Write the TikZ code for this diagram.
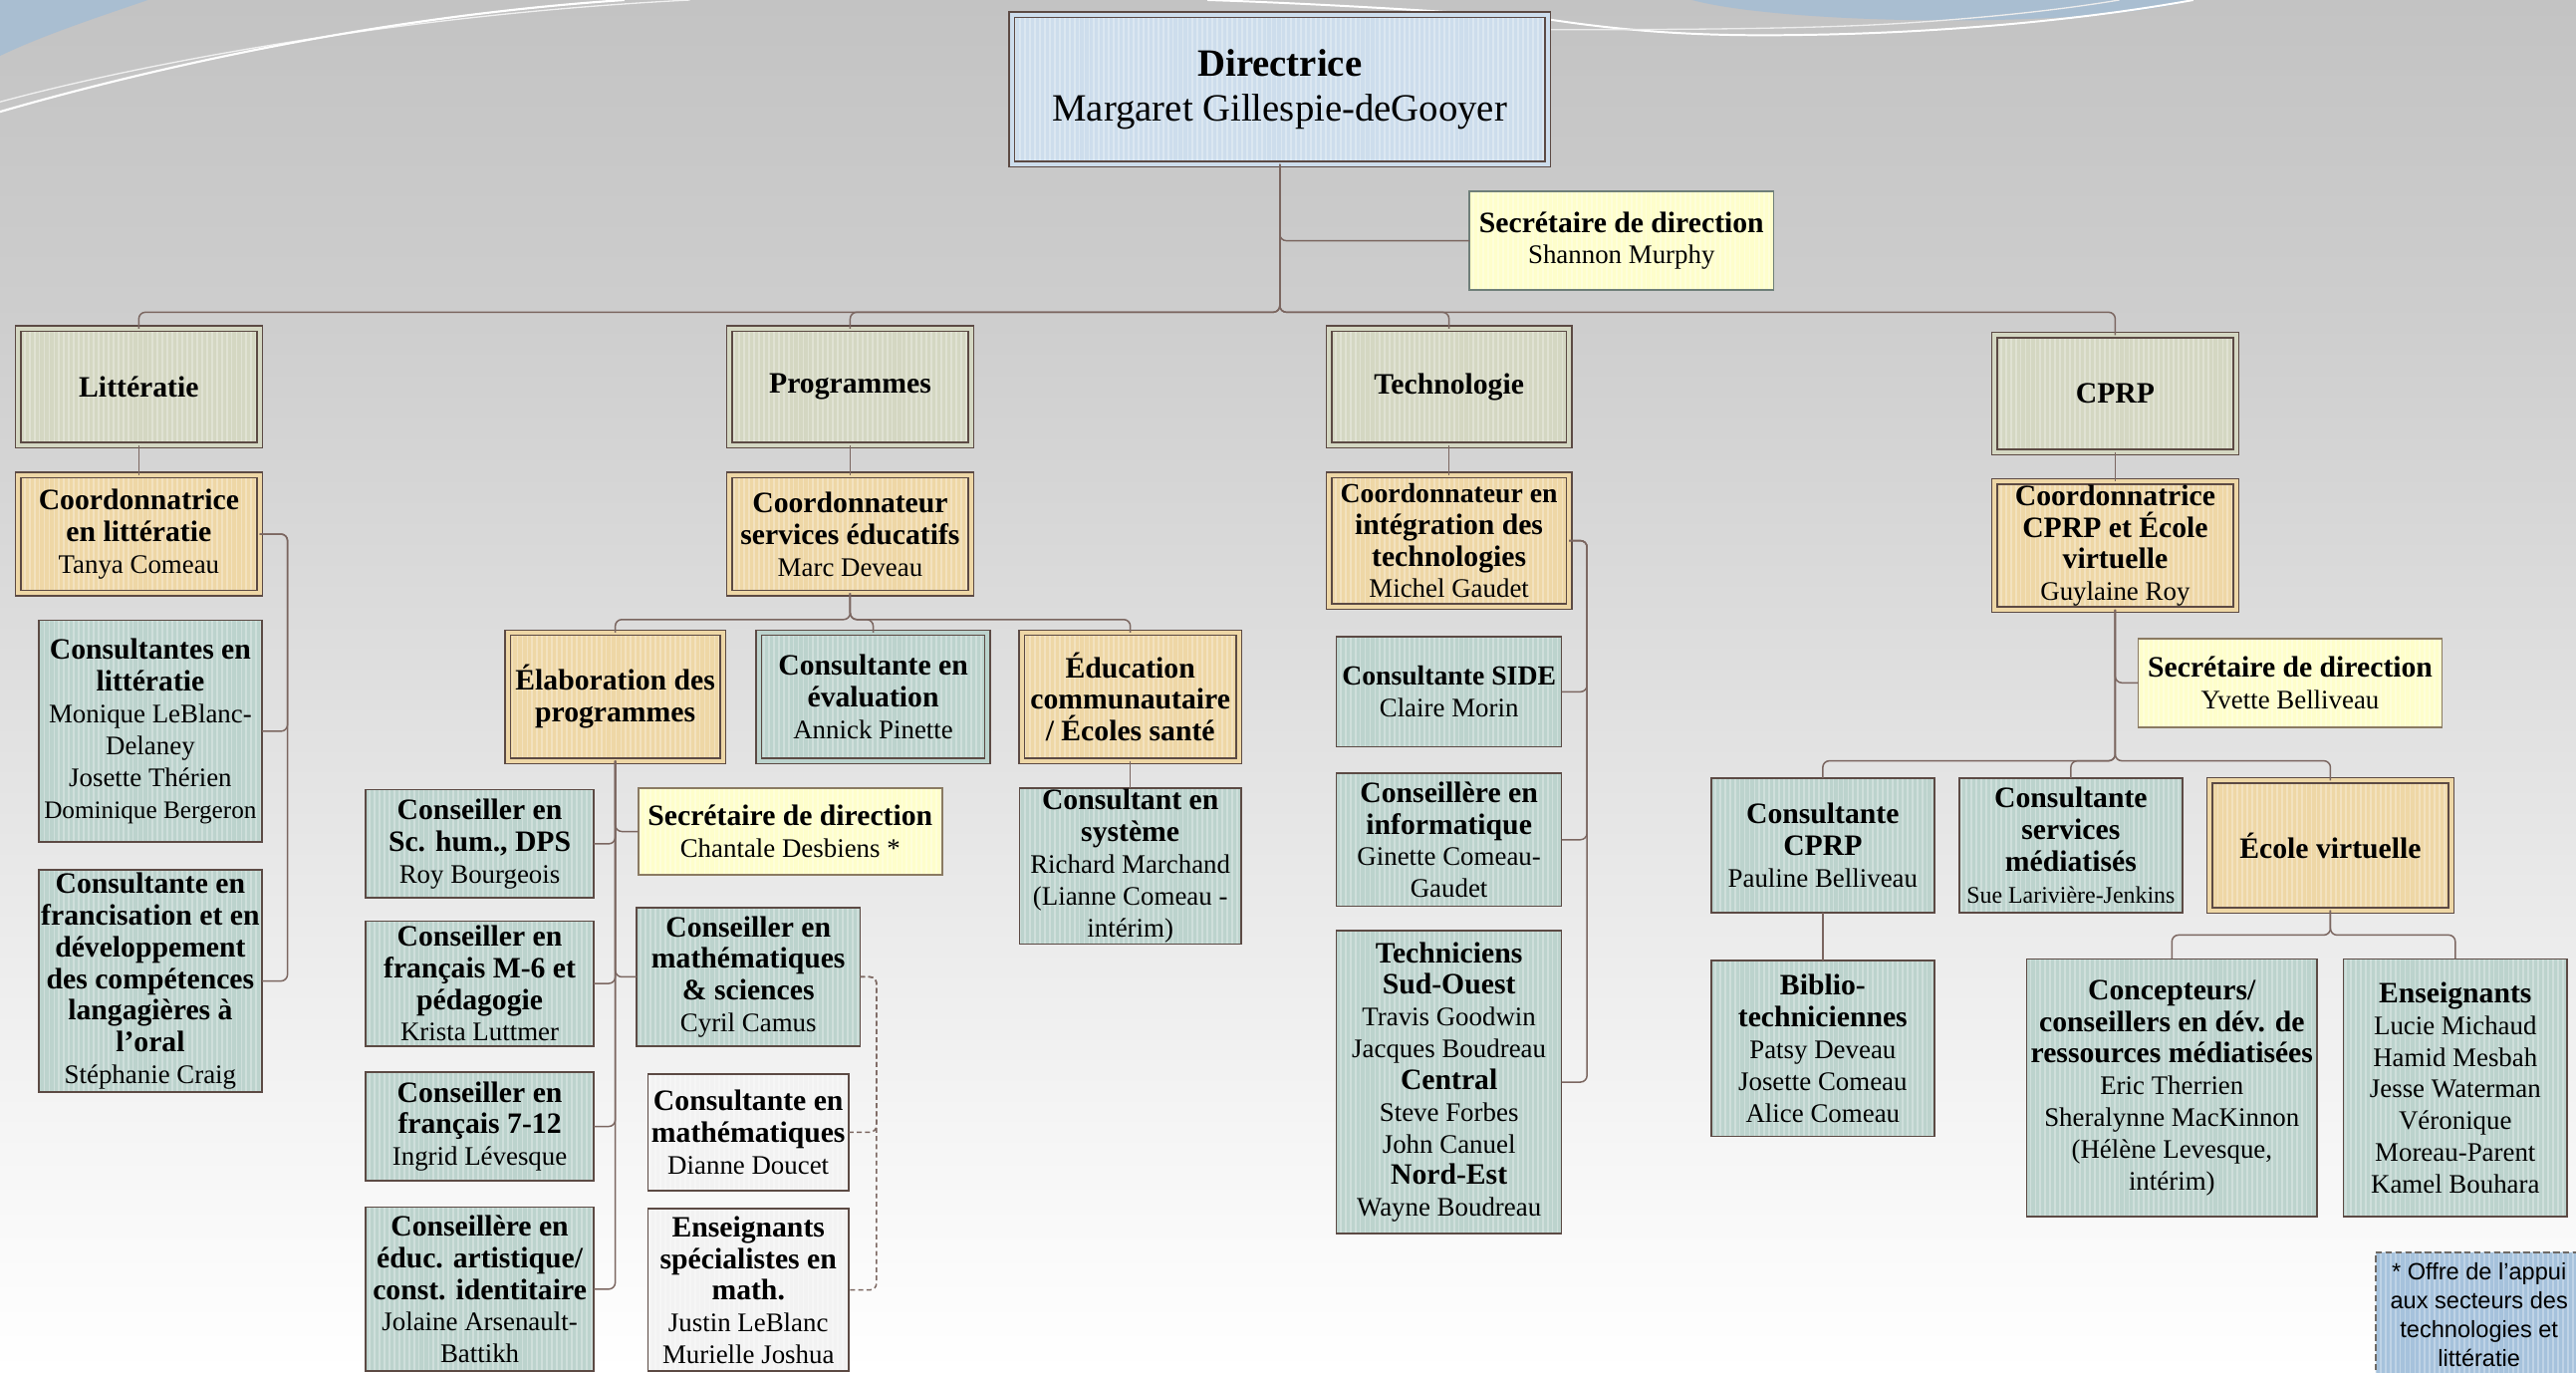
\documentclass[tikz,border=0pt]{standalone}
\usepackage{fontspec}
\setmainfont{Liberation Serif}
\newfontfamily\footfont{Liberation Sans}
\usetikzlibrary{patterns.meta}
\definecolor{bdc}{HTML}{5C4A44}
\definecolor{cnc}{HTML}{7B6660}
\definecolor{cblue}{HTML}{CDDDEC}
\definecolor{cgreen}{HTML}{D4D7C2}
\definecolor{ctan}{HTML}{EED7A6}
\definecolor{cteal}{HTML}{BCD3CD}
\definecolor{cyel}{HTML}{FEFECB}
\definecolor{clight}{HTML}{F2F2F2}
\definecolor{cfoot}{HTML}{A6C2DC}
\definecolor{cfootb}{HTML}{6E6964}
\definecolor{csecA}{HTML}{6F7F79}
\definecolor{csecB}{HTML}{8A7A62}
\definecolor{cswoosh}{HTML}{A9BED1}
\definecolor{bgA}{HTML}{FFFFFF}
\definecolor{bgB}{HTML}{F6F6F6}
\definecolor{bgC}{HTML}{E6E6E6}
\definecolor{bgD}{HTML}{DADADA}
\definecolor{bgE}{HTML}{CDCDCD}
\definecolor{bgF}{HTML}{C3C3C3}
\pgfdeclareverticalshading{bgshade}{100bp}{color(0bp)=(bgA); color(25bp)=(bgA); color(33bp)=(bgB); color(45bp)=(bgC); color(54bp)=(bgD); color(64bp)=(bgE); color(75bp)=(bgF); color(100bp)=(bgF)}
\newcommand\nmFont{\fontsize{16.3}{19.3}\selectfont}
\newcommand\ttlB[1]{{\fontsize{18}{19.3}\selectfont\bfseries #1}}
\newcommand\ttlS[1]{{\fontsize{16.8}{19.3}\selectfont\bfseries #1}}
\newcommand\nmS[1]{{\fontsize{15.3}{19.3}\selectfont #1}}
\tikzset{
  base/.style={align=center, inner sep=0pt, outer sep=0pt, text=black, font=\nmFont},
  stripefill/.style={preaction={fill=#1}, preaction={pattern={Lines[angle=90,distance=3pt,line width=1.1pt]}, pattern color=#1!72!white}},
  dbox/.style={base, stripefill=#1, draw=bdc, line width=0.9pt, double=#1, double distance=2.4pt},
  sbox/.style={base, stripefill=#1, draw=bdc, line width=1pt},
  conn/.style={draw=cnc, line width=0.9pt, rounded corners=4pt},
  dconn/.style={conn, dash pattern=on 3pt off 2pt},
}
\begin{document}
\begin{tikzpicture}[x=1pt,y=-1pt]
\useasboundingbox (0,0) rectangle (1568,835);
\clip (0,0) rectangle (1568,835);
% background
\shade[shading=bgshade] (0,0) rectangle (1568,835);
\fill[cswoosh] (0,0) -- (90,0) .. controls (55,12) and (25,22) .. (0,34) -- cycle;
\fill[cswoosh] (1030,0) .. controls (1085,15) and (1270,18) .. (1335,0) -- cycle;
\draw[white!88!gray, line width=0.8pt] (0,62) .. controls (100,35) and (260,8) .. (420,0);
\draw[white, line width=1.3pt] (0,68) .. controls (90,42) and (230,10) .. (380,0);
\draw[white, line width=1.2pt] (735,0) .. controls (800,2) and (900,8) .. (944,12);
\draw[white, line width=1.2pt] (944,12) .. controls (1010,22) and (1060,22) .. (1110,21) .. controls (1200,19) and (1280,10) .. (1335,0);
\draw[white!85!gray, line width=0.8pt] (944,18) .. controls (1000,18) and (1100,18) .. (1160,14) .. controls (1220,10) and (1260,5) .. (1290,0);

% top
\node[dbox=cblue, minimum width=326pt, minimum height=91pt, font=\fontsize{23.5}{27}\selectfont] (dir) at (779,54.5) {\textbf{Directrice}\\Margaret Gillespie-deGooyer};
\node[sbox=cyel, draw=csecA, minimum width=185pt, minimum height=60pt] (sec1) at (987,146.5) {\ttlB{Secrétaire de direction}\\Shannon Murphy};

% level 2
\node[dbox=cgreen, minimum width=147pt, minimum height=71pt] (litt) at (84.5,235.5) {\ttlB{Littératie}};
\node[dbox=cgreen, minimum width=147pt, minimum height=71pt] (prog) at (517.5,235.5) {\ttlB{Programmes}};
\node[dbox=cgreen, minimum width=146pt, minimum height=71pt] (tech) at (882,235.5) {\ttlB{Technologie}};
\node[dbox=cgreen, minimum width=147pt, minimum height=71pt] (cprp) at (1287.5,239.5) {\ttlB{CPRP}};

% coordinators
\node[dbox=ctan, minimum width=147pt, minimum height=72pt] (lcoord) at (84.5,325) {\ttlB{Coordonnatrice}\\\ttlB{en littératie}\\Tanya Comeau};
\node[dbox=ctan, minimum width=147pt, minimum height=72pt] (pcoord) at (517.5,325) {\ttlB{Coordonnateur}\\\ttlB{services éducatifs}\\Marc Deveau};
\node[dbox=ctan, minimum width=146pt, minimum height=80pt] (tcoord) at (882,329) {\ttlS{Coordonnateur en}\\\ttlB{intégration des}\\\ttlB{technologies}\\Michel Gaudet};
\node[dbox=ctan, minimum width=147pt, minimum height=78pt] (ccoord) at (1287.5,332) {\ttlB{Coordonnatrice}\\\ttlB{CPRP et École}\\\ttlB{virtuelle}\\Guylaine Roy};

% Litteratie children
\node[sbox=cteal, minimum width=136pt, minimum height=135pt] (lc1) at (91.5,445) {\ttlB{Consultantes en}\\\ttlB{littératie}\\Monique LeBlanc-\\Delaney\\Josette Thérien\\\nmS{Dominique Bergeron}};
\node[sbox=cteal, minimum width=136pt, minimum height=135pt] (lc2) at (91.5,597) {\ttlB{Consultante en}\\\ttlB{francisation et en}\\\ttlB{développement}\\\ttlB{des compétences}\\\ttlB{langagières à}\\\ttlB{l’oral}\\Stéphanie Craig};

% Programmes children
\node[dbox=ctan, minimum width=131pt, minimum height=78pt] (elab) at (374.5,424) {\ttlB{Élaboration des}\\\ttlB{programmes}};
\node[dbox=cteal, minimum width=139pt, minimum height=78pt] (eval) at (531.5,424) {\ttlB{Consultante en}\\\ttlB{évaluation}\\Annick Pinette};
\node[dbox=ctan, minimum width=132pt, minimum height=78pt] (educ) at (688,424) {\ttlB{Éducation}\\\ttlB{communautaire}\\\ttlB{/ Écoles santé}};
\node[sbox=cteal, minimum width=135pt, minimum height=95pt] (syst) at (688,527) {\ttlB{Consultant en}\\\ttlB{système}\\Richard Marchand\\(Lianne Comeau -\\intérim)};
\node[sbox=cteal, minimum width=139pt, minimum height=66pt] (schum) at (292,513.5) {\ttlB{Conseiller en}\\\ttlB{Sc. hum., DPS}\\Roy Bourgeois};
\node[sbox=cteal, minimum width=139pt, minimum height=76pt] (fm6) at (292,598.5) {\ttlB{Conseiller en}\\\ttlB{français M-6 et}\\\ttlB{pédagogie}\\Krista Luttmer};
\node[sbox=cteal, minimum width=139pt, minimum height=66pt] (f712) at (292,685.5) {\ttlB{Conseiller en}\\\ttlB{français 7-12}\\Ingrid Lévesque};
\node[sbox=cteal, minimum width=139pt, minimum height=100pt] (arts) at (292,784.5) {\ttlB{Conseillère en}\\\ttlB{éduc. artistique/}\\\ttlB{const. identitaire}\\Jolaine Arsenault-\\Battikh};
\node[sbox=cyel, draw=csecB, minimum width=185pt, minimum height=53pt] (sec2) at (481,506) {\ttlB{Secrétaire de direction}\\Chantale Desbiens *};
\node[sbox=cteal, minimum width=136pt, minimum height=84pt] (maths) at (455.5,594.5) {\ttlB{Conseiller en}\\\ttlB{mathématiques}\\\ttlB{\& sciences}\\Cyril Camus};
\node[sbox=clight, minimum width=122pt, minimum height=71pt] (dianne) at (455.5,689) {\ttlB{Consultante en}\\\ttlB{mathématiques}\\Dianne Doucet};
\node[sbox=clight, minimum width=122pt, minimum height=99pt] (enssp) at (455.5,785) {\ttlB{Enseignants}\\\ttlB{spécialistes en}\\\ttlB{math.}\\Justin LeBlanc\\Murielle Joshua};

% Technologie children
\node[sbox=cteal, minimum width=137pt, minimum height=67pt] (side) at (882,421) {\ttlS{Consultante SIDE}\\Claire Morin};
\node[sbox=cteal, minimum width=137pt, minimum height=81pt] (info) at (882,511) {\ttlB{Conseillère en}\\\ttlB{informatique}\\Ginette Comeau-\\Gaudet};
\node[sbox=cteal, minimum width=137pt, minimum height=184pt] (techn) at (882,658.5) {\ttlB{Techniciens}\\\ttlB{Sud-Ouest}\\Travis Goodwin\\Jacques Boudreau\\\ttlB{Central}\\Steve Forbes\\John Canuel\\\ttlB{Nord-Est}\\Wayne Boudreau};

% CPRP children
\node[sbox=cyel, draw=csecB, minimum width=185pt, minimum height=54pt] (sec3) at (1394,415.5) {\ttlB{Secrétaire de direction}\\Yvette Belliveau};
\node[sbox=cteal, minimum width=136pt, minimum height=82pt] (ccprp) at (1109.5,514.5) {\ttlB{Consultante}\\\ttlB{CPRP}\\Pauline Belliveau};
\node[sbox=cteal, minimum width=136pt, minimum height=82pt] (cserv) at (1260.5,514.5) {\ttlB{Consultante}\\\ttlB{services}\\\ttlB{médiatisés}\\{\fontsize{14.5}{19.3}\selectfont Sue Larivière-Jenkins}};
\node[dbox=ctan, minimum width=147pt, minimum height=79pt] (ecole) at (1418.5,514.5) {\ttlB{École virtuelle}};
\node[sbox=cteal, minimum width=136pt, minimum height=107pt] (biblio) at (1109.5,638) {\ttlB{Biblio-}\\\ttlB{techniciennes}\\Patsy Deveau\\Josette Comeau\\Alice Comeau};
\node[sbox=cteal, minimum width=177pt, minimum height=157pt] (conc) at (1322,662) {\ttlB{Concepteurs/}\\\ttlB{conseillers en dév. de}\\\ttlB{ressources médiatisées}\\Eric Therrien\\Sheralynne MacKinnon\\(Hélène Levesque,\\intérim)};
\node[sbox=cteal, minimum width=136pt, minimum height=157pt] (ens) at (1494.5,662) {\ttlB{Enseignants}\\Lucie Michaud\\Hamid Mesbah\\Jesse Waterman\\Véronique\\Moreau-Parent\\Kamel Bouhara};

% footnote
\node[base, stripefill=cfoot, draw=cfootb, line width=1.3pt, dash pattern=on 4pt off 2pt, minimum width=126pt, minimum height=76pt, font=\footfont\fontsize{14.3}{17.6}\selectfont] (foot) at (1509,800) {* Offre de l’appui\\aux secteurs des\\technologies et\\littératie};

% connectors
\coordinate (busA) at (779,190);
\foreach \n in {litt,prog,tech,cprp} \draw[conn] (\n.north) |- (busA) -- (dir.south);
\draw[conn] (dir.south) |- (sec1.west);

\draw[conn] (litt.south) -- (lcoord.north);
\coordinate (lx) at (175,0);
\foreach \n in {lc1,lc2} \draw[conn] (lcoord.east) -| (lx |- \n.east) -- (\n.east);

\draw[conn] (prog.south) -- (pcoord.north);
\coordinate (busP) at (517.5,377);
\foreach \n in {elab,eval,educ} \draw[conn] (\n.north) |- (busP) -- (pcoord.south);
\draw[conn] (educ.south) -- (syst.north);
\foreach \n in {schum,fm6,f712,arts} \draw[conn] (elab.south) |- (\n.east);
\foreach \n in {sec2,maths} \draw[conn] (elab.south) |- (\n.west);
\coordinate (dx) at (533.5,0);
\foreach \n in {dianne,enssp} \draw[dconn] (maths.east) -| (dx |- \n.east) -- (\n.east);

\draw[conn] (tech.south) -- (tcoord.north);
\coordinate (tx) at (966,0);
\foreach \n in {side,info,techn} \draw[conn] (tcoord.east) -| (tx |- \n.east) -- (\n.east);

\draw[conn] (cprp.south) -- (ccoord.north);
\draw[conn] (ccoord.south) |- (sec3.west);
\coordinate (busC) at (1287.5,463);
\foreach \n in {ccprp,cserv,ecole} \draw[conn] (\n.north) |- (busC) -- (ccoord.south);
\draw[conn] (ccprp.south) -- (biblio.north);
\coordinate (busE) at (1418.5,569);
\foreach \n in {conc,ens} \draw[conn] (\n.north) |- (busE) -- (ecole.south);
\end{tikzpicture}
\end{document}
